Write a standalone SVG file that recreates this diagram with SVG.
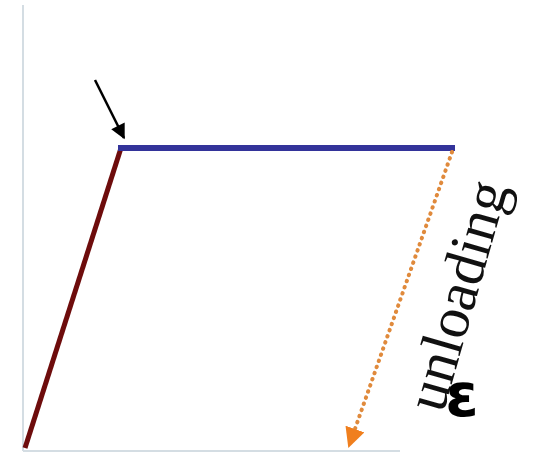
<svg xmlns="http://www.w3.org/2000/svg" width="539" height="452" viewBox="0 0 539 452">
<defs>
<style>
.axis{stroke:#d4dde3;stroke-width:2;fill:none}
.lbl{font-family:"Liberation Serif",serif;fill:#111}
</style>
<marker id="ah" viewBox="0 0 10 10" refX="9" refY="5" markerWidth="7.5" markerHeight="6" orient="auto" markerUnits="strokeWidth">
<path d="M0,0 L10,5 L0,10 z" fill="#000"/>
</marker>
<marker id="ao" viewBox="0 0 10 10" refX="9" refY="5" markerWidth="5" markerHeight="5" orient="auto" markerUnits="strokeWidth">
<path d="M0,0 L10,5 L0,10 z" fill="#f07f1e"/>
</marker>
</defs>
<rect width="539" height="452" fill="#fff"/>
<g id="axes">
<line class="axis" x1="23" y1="5" x2="23" y2="451"/>
<line class="axis" x1="23" y1="451" x2="400" y2="451"/>
</g>
<g id="connectors">
<line x1="25" y1="448" x2="121" y2="148" stroke="#6e0c0c" stroke-width="5"/>
<line x1="118" y1="148" x2="455" y2="148" stroke="#33339a" stroke-width="6"/>
<line x1="95" y1="80" x2="124" y2="138" stroke="#000" stroke-width="2.5" marker-end="url(#ah)"/>
<line x1="452" y1="152" x2="349" y2="446" stroke="#e08a3c" stroke-width="4" stroke-linecap="round" stroke-dasharray="0.5,6" marker-end="url(#ao)"/>
</g>
<g id="label-unloading">
<text class="lbl" x="0" y="0" font-size="59" transform="translate(443,414) rotate(-74)">unloading</text>
</g>
<g id="label-epsilon">
<text x="462" y="416" font-family="DejaVu Sans,sans-serif" font-weight="bold" font-size="60" text-anchor="middle" fill="#000">ε</text>
</g>
</svg>
